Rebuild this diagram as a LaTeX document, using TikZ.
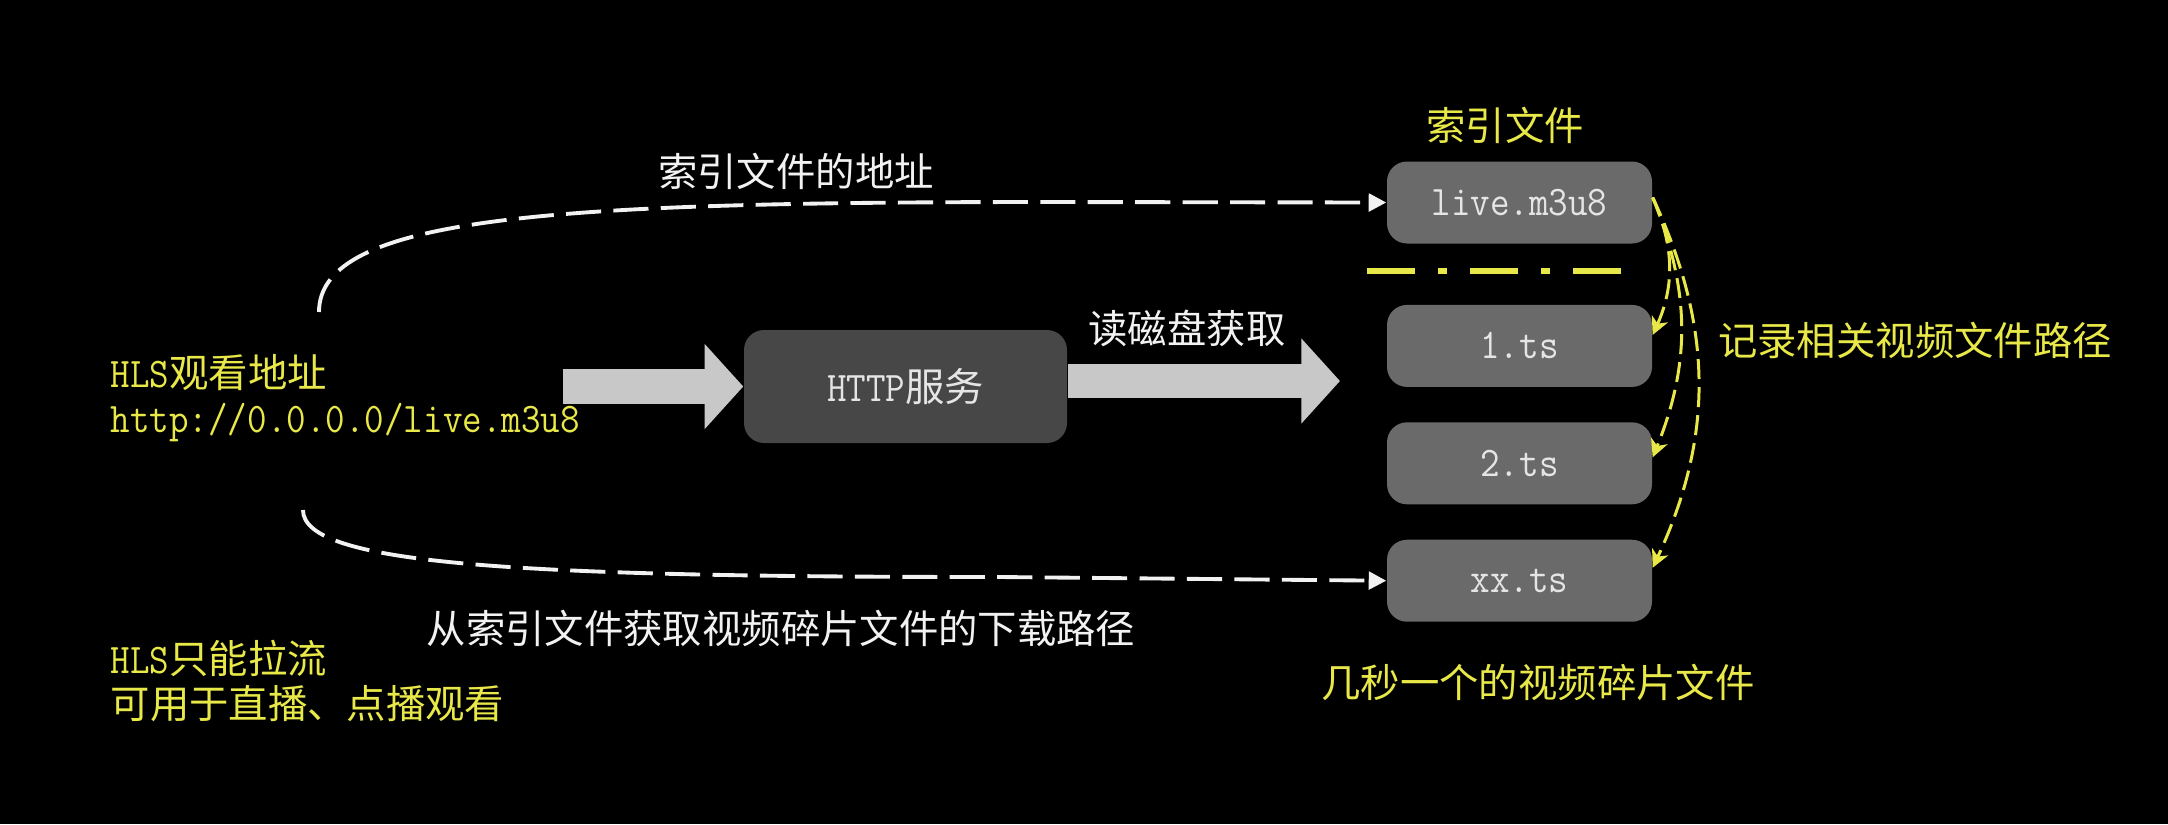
\documentclass[tikz,border=0pt]{standalone}
\usepackage{fontspec}
\usepackage{xcolor}
\usepackage{tikz}
\usetikzlibrary{positioning,arrows.meta}
\newfontfamily\cjkfnt{Noto Sans CJK SC}
\newfontfamily\monofnt[FakeStretch=0.9]{Latin Modern Mono}
\newcommand{\latinpart}[1]{{\monofnt\fontsize{12pt}{13pt}\selectfont #1}}
\definecolor{hlsyellow}{RGB}{232,232,72}
\definecolor{boxgray}{RGB}{106,106,106}
\definecolor{httpgray}{RGB}{71,71,71}
\definecolor{arrowgray}{RGB}{200,200,200}
\definecolor{lbltext}{RGB}{242,242,242}

\begin{document}
\begin{tikzpicture}[
    x=0.1mm, y=-0.1mm,
    node distance=3.4mm,
    font=\cjkfnt\fontsize{11.2pt}{13pt}\selectfont,
    filebox/.style={rectangle, fill=boxgray, minimum width=26.5mm, minimum height=8.2mm, rounded corners=2mm, text=black!10, font=\monofnt\fontsize{12pt}{13pt}\selectfont},
    httpbox/.style={rectangle, fill=httpgray, minimum width=32.3mm, minimum height=11.3mm, rounded corners=2mm, text=black!10},
    ylbl/.style={text=hlsyellow, inner sep=0pt},
    wlbl/.style={text=lbltext, inner sep=0pt},
    bigarrow/.style={-{Triangle[length=11pt, width=23.6pt]}, line width=9.9pt, draw=arrowgray},
    fetch/.style={-{Triangle[length=5pt, width=5pt]}, draw=lbltext, line width=1.1pt, dash pattern=on 10pt off 3.5pt},
    record/.style={-{Stealth[length=5pt, width=5pt, inset=1.5pt]}, draw=hlsyellow, line width=0.85pt, dash pattern=on 5.7pt off 2.3pt},
    sepline/.style={draw=hlsyellow, line width=1.7pt, dash pattern=on 13.7pt off 6.5pt on 2.6pt off 6.5pt}
]

% Background
\fill[black] (0,0) rectangle (2168,824);

% Right column: index file and segments
\node[filebox] (live) at (1519.5,202.5) {live.m3u8};
\node[filebox, below=6mm of live] (ts1) {1.ts};
\node[filebox, below=of ts1] (ts2) {2.ts};
\node[filebox, below=of ts2] (tsxx) {xx.ts};

% Middle: server
\node[httpbox] (http) at (905.5,386.5) {\latinpart{HTTP}服务};

% Labels
\node[ylbl] (idxtitle) at (1505,125) {索引文件};
\node[wlbl] (idxaddr) at (796,171) {索引文件的地址};
\node[wlbl] (disk) at (1187,328) {读磁盘获取};
\node[wlbl] (segpath) at (781,628) {从索引文件获取视频碎片文件的下载路径};
\node[ylbl] (recpath) at (1915,340) {记录相关视频文件路径};
\node[ylbl] (segfiles) at (1538,682) {几秒一个的视频碎片文件};
\node[ylbl, anchor=west, align=left] (watch) at (110,398) {\latinpart{HLS}观看地址\\\latinpart{http://0.0.0.0/live.m3u8}};
\node[ylbl, anchor=west, align=left] (pullonly) at (110,681) {\latinpart{HLS}只能拉流\\可用于直播、点播观看};

% Free ends
\coordinate (urlout) at (563,386.5);
\coordinate (diskend) at (1340,381);
\coordinate (watchtop) at (319,312);
\coordinate (watchbot) at (303,510);

% === Arrows ===

% Big arrows through the server
\draw[bigarrow] (urlout) -- (http.west);
\draw[bigarrow] (http.east |- diskend) -- (diskend);

% Player requests
\draw[fetch] (watchtop) .. controls (319,215) and (560,202) .. (1050,202) -- (live.west);
\draw[fetch] (watchbot) .. controls (303,565) and (520,577) .. (1000,577) -- (tsxx.west);

% Index file lists the segments
\draw[sepline] ([xshift=-1.9mm, yshift=-2.7mm]live.south west) -- ++(260,0);
\draw[record] ([yshift=0.5mm]live.east) to[bend left=24] ([yshift=1.1mm]ts1.east);
\draw[record] ([yshift=0.5mm]live.east) to[bend left=22] ([yshift=0.6mm]ts2.east);
\draw[record] ([yshift=0.5mm]live.east) to[bend left=25] ([yshift=1.3mm]tsxx.east);

\end{tikzpicture}
\end{document}
